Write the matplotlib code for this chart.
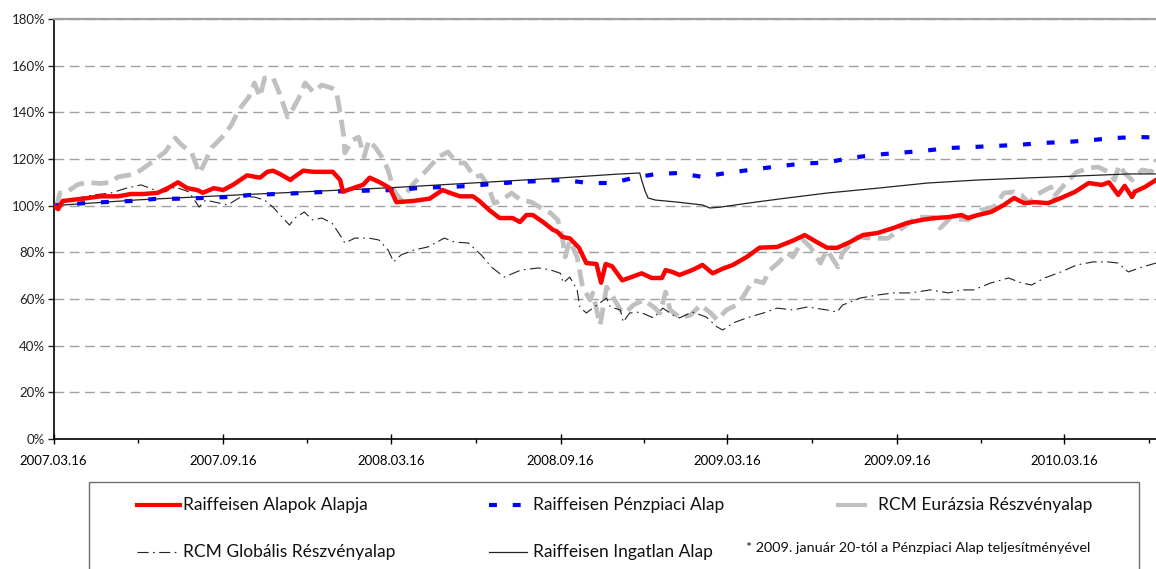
import matplotlib
matplotlib.use("Agg")
import matplotlib.pyplot as plt
import matplotlib.dates as mdates
import pandas as pd
from matplotlib.ticker import PercentFormatter, MultipleLocator
from matplotlib.patches import Rectangle
from matplotlib.lines import Line2D

plt.rcParams['font.family'] = ['Lato', 'DejaVu Sans']

# --- data (percent of starting value) ---
alapok_dates = ['2007-03-16', '2007-03-21', '2007-03-26', '2007-04-17', '2007-05-06', '2007-05-25',
                '2007-06-08', '2007-06-22', '2007-07-07', '2007-07-18', '2007-07-29', '2007-08-08',
                '2007-08-19', '2007-08-25', '2007-09-06', '2007-09-16', '2007-09-27', '2007-10-12',
                '2007-10-26', '2007-11-03', '2007-11-09', '2007-11-17', '2007-11-28', '2007-12-01',
                '2007-12-12', '2007-12-23', '2008-01-07', '2008-01-13', '2008-01-21', '2008-01-24',
                '2008-02-04', '2008-02-15', '2008-02-22', '2008-03-04', '2008-03-15', '2008-03-22',
                '2008-04-09', '2008-04-27', '2008-05-11', '2008-05-19', '2008-05-30', '2008-06-13',
                '2008-06-20', '2008-07-01', '2008-07-12', '2008-07-26', '2008-08-03', '2008-08-10',
                '2008-08-17', '2008-08-28', '2008-09-08', '2008-09-12', '2008-09-18', '2008-09-26',
                '2008-10-06', '2008-10-14', '2008-10-25', '2008-10-30', '2008-11-04', '2008-11-11',
                '2008-11-22', '2008-12-02', '2008-12-13', '2008-12-24', '2009-01-04', '2009-01-08',
                '2009-01-16', '2009-01-23', '2009-02-06', '2009-02-17', '2009-02-28', '2009-03-11',
                '2009-03-22', '2009-04-06', '2009-04-20', '2009-05-09', '2009-05-26', '2009-06-08',
                '2009-06-21', '2009-07-02', '2009-07-13', '2009-07-27', '2009-08-10', '2009-08-26',
                '2009-09-12', '2009-09-27', '2009-10-13', '2009-10-27', '2009-11-11', '2009-11-25',
                '2009-12-02', '2009-12-13', '2009-12-27', '2010-01-10', '2010-01-21', '2010-02-01',
                '2010-02-12', '2010-02-27', '2010-03-13', '2010-03-28', '2010-04-12', '2010-04-26',
                '2010-05-04', '2010-05-14', '2010-05-21', '2010-05-29', '2010-06-01', '2010-06-12',
                '2010-06-24']
alapok_vals = [100.0, 98.5, 102.0, 103.0, 104.0, 104.0, 105.0, 105.0, 105.5, 107.5, 110.0, 107.5,
               106.7, 105.5, 107.5, 106.7, 109.0, 113.0, 112.0, 114.5, 115.0, 113.5, 111.0, 112.0,
               115.0, 114.5, 114.5, 114.5, 111.0, 106.0, 107.5, 109.0, 112.0, 110.0, 107.5, 101.5,
               102.0, 103.0, 106.7, 105.5, 104.0, 104.0, 102.0, 98.0, 94.7, 94.7, 93.0, 96.0,
               96.0, 93.0, 89.6, 89.0, 86.6, 86.0, 82.0, 75.4, 75.0, 67.0, 75.0, 74.0,
               68.0, 69.4, 71.0, 69.0, 69.0, 72.4, 71.5, 70.3, 72.4, 74.6, 71.0, 73.0,
               74.6, 78.0, 82.0, 82.3, 85.0, 87.4, 84.4, 82.0, 81.9, 84.4, 87.4, 88.3,
               90.4, 92.6, 93.9, 94.7, 95.1, 96.0, 94.7, 96.0, 97.3, 100.3, 103.3, 101.1,
               101.5, 101.1, 103.3, 105.9, 109.7, 108.9, 110.0, 104.6, 108.5, 103.7, 106.0, 108.0,
               111.0]

penz_dates = ['2007-03-16', '2007-04-16', '2007-05-14', '2007-06-08', '2007-07-04', '2007-08-02',
              '2007-08-26', '2007-09-20', '2007-10-16', '2007-11-13', '2007-12-10', '2008-01-03',
              '2008-02-02', '2008-02-26', '2008-03-22', '2008-04-16', '2008-05-14', '2008-06-07',
              '2008-07-05', '2008-07-30', '2008-08-27', '2008-09-20', '2008-10-16', '2008-11-11',
              '2008-12-04', '2008-12-29', '2009-01-23', '2009-02-17', '2009-03-15', '2009-04-09',
              '2009-05-05', '2009-06-04', '2009-07-02', '2009-07-27', '2009-08-21', '2009-09-16',
              '2009-10-13', '2009-11-11', '2009-12-06', '2009-12-31', '2010-01-24', '2010-02-22',
              '2010-03-19', '2010-04-13', '2010-05-08', '2010-06-07', '2010-06-24']
penz_vals = [100.0, 101.0, 101.6, 102.0, 102.9, 103.0, 103.3, 103.7, 104.6, 105.0, 105.4, 105.9,
             106.3, 106.5, 106.7, 107.6, 108.0, 108.4, 109.3, 110.1, 110.6, 111.0, 109.7, 109.7,
             111.9, 113.6, 114.0, 112.3, 114.0, 115.3, 116.6, 118.0, 118.5, 120.4, 121.7, 122.6,
             123.4, 124.7, 125.1, 125.6, 126.0, 126.9, 127.3, 128.0, 129.0, 129.4, 129.2]

eurazsia_dates = ['2007-03-16', '2007-03-20', '2007-03-23', '2007-03-31', '2007-04-11', '2007-04-21',
                  '2007-05-06', '2007-05-17', '2007-05-25', '2007-06-04', '2007-06-11', '2007-06-19',
                  '2007-07-04', '2007-07-15', '2007-07-26', '2007-08-02', '2007-08-13', '2007-08-21',
                  '2007-08-24', '2007-09-04', '2007-09-15', '2007-09-25', '2007-10-03', '2007-10-14',
                  '2007-10-20', '2007-10-26', '2007-10-31', '2007-11-09', '2007-11-16', '2007-11-25',
                  '2007-11-30', '2007-12-07', '2007-12-14', '2007-12-23', '2008-01-01', '2008-01-12',
                  '2008-01-17', '2008-01-21', '2008-01-25', '2008-01-26', '2008-02-03', '2008-02-10',
                  '2008-02-16', '2008-02-21', '2008-02-28', '2008-03-06', '2008-03-13', '2008-03-19',
                  '2008-03-27', '2008-04-10', '2008-04-21', '2008-05-07', '2008-05-17', '2008-05-21',
                  '2008-05-28', '2008-06-04', '2008-06-15', '2008-06-22', '2008-06-30', '2008-07-06',
                  '2008-07-14', '2008-07-25', '2008-08-04', '2008-08-15', '2008-08-26', '2008-09-05',
                  '2008-09-13', '2008-09-18', '2008-09-21', '2008-09-26', '2008-10-04', '2008-10-10',
                  '2008-10-18', '2008-10-21', '2008-10-29', '2008-11-05', '2008-11-12', '2008-11-20',
                  '2008-11-25', '2008-12-04', '2008-12-15', '2008-12-26', '2009-01-02', '2009-01-08',
                  '2009-01-13', '2009-01-24', '2009-02-04', '2009-02-15', '2009-02-26', '2009-03-05',
                  '2009-03-15', '2009-03-26', '2009-04-02', '2009-04-13', '2009-04-24', '2009-05-01',
                  '2009-05-10', '2009-05-20', '2009-05-26', '2009-06-06', '2009-06-14', '2009-06-25',
                  '2009-07-02', '2009-07-14', '2009-07-19', '2009-08-04', '2009-08-21', '2009-09-06',
                  '2009-09-19', '2009-10-08', '2009-10-26', '2009-11-02', '2009-11-13', '2009-12-02',
                  '2009-12-16', '2009-12-30', '2010-01-10', '2010-01-21', '2010-01-29', '2010-02-06',
                  '2010-02-16', '2010-03-02', '2010-03-05', '2010-03-19', '2010-03-30', '2010-04-12',
                  '2010-04-22', '2010-05-04', '2010-05-10', '2010-05-15', '2010-05-21', '2010-05-29',
                  '2010-06-09', '2010-06-19', '2010-06-24']
eurazsia_vals = [100.0, 101.0, 105.4, 106.0, 109.0, 110.0, 109.5, 110.0, 112.3, 113.0, 113.5, 115.3,
                 119.6, 123.0, 129.0, 126.0, 122.6, 114.0, 116.0, 125.0, 129.4, 134.6, 141.0, 146.6,
                 152.6, 146.6, 154.7, 155.0, 148.3, 138.0, 141.0, 146.0, 152.6, 148.7, 151.7, 150.4,
                 148.7, 139.7, 129.4, 122.6, 128.0, 129.4, 120.9, 128.0, 125.0, 121.0, 115.3, 106.7,
                 102.4, 109.7, 114.0, 121.0, 123.0, 121.0, 118.3, 118.3, 112.3, 113.0, 108.0, 101.0,
                 102.4, 105.4, 102.4, 101.6, 99.0, 96.9, 93.9, 86.6, 78.0, 85.0, 78.0, 65.1,
                 59.6, 62.6, 48.9, 65.1, 60.9, 55.3, 54.0, 57.4, 59.6, 56.6, 54.0, 63.0,
                 55.3, 51.9, 53.1, 57.4, 54.0, 51.0, 55.3, 57.4, 60.9, 68.1, 66.9, 72.4,
                 75.4, 79.7, 78.0, 85.3, 82.3, 75.4, 81.0, 73.7, 79.7, 86.6, 86.0, 86.0,
                 89.6, 95.1, 95.0, 90.4, 94.7, 93.9, 98.1, 99.4, 105.4, 105.9, 104.6, 101.1,
                 105.0, 108.0, 103.7, 110.0, 114.4, 116.1, 116.6, 114.4, 111.0, 117.4, 114.0, 111.0,
                 115.3, 114.5, 119.6]

globalis_dates = ['2007-03-16', '2007-03-31', '2007-04-28', '2007-05-17', '2007-06-04', '2007-06-19',
                  '2007-07-04', '2007-07-15', '2007-07-26', '2007-08-10', '2007-08-21', '2007-08-28',
                  '2007-09-06', '2007-09-21', '2007-10-05', '2007-10-20', '2007-10-31', '2007-11-09',
                  '2007-11-19', '2007-11-27', '2007-12-03', '2007-12-13', '2007-12-22', '2008-01-01',
                  '2008-01-12', '2008-01-23', '2008-01-26', '2008-02-06', '2008-02-21', '2008-03-03',
                  '2008-03-13', '2008-03-19', '2008-03-27', '2008-04-10', '2008-04-25', '2008-05-13',
                  '2008-05-24', '2008-06-08', '2008-06-22', '2008-07-03', '2008-07-17', '2008-08-04',
                  '2008-08-23', '2008-09-05', '2008-09-16', '2008-09-19', '2008-09-26', '2008-10-04',
                  '2008-10-07', '2008-10-14', '2008-10-21', '2008-11-05', '2008-11-09', '2008-11-20',
                  '2008-11-23', '2008-11-30', '2008-12-11', '2008-12-26', '2009-01-05', '2009-01-16',
                  '2009-01-23', '2009-02-06', '2009-02-21', '2009-03-05', '2009-03-11', '2009-03-22',
                  '2009-04-06', '2009-04-24', '2009-05-09', '2009-05-26', '2009-06-11', '2009-07-02',
                  '2009-07-13', '2009-07-19', '2009-08-07', '2009-08-26', '2009-09-12', '2009-10-01',
                  '2009-10-22', '2009-11-11', '2009-11-25', '2009-12-08', '2009-12-27', '2010-01-15',
                  '2010-01-29', '2010-02-09', '2010-02-23', '2010-03-13', '2010-03-30', '2010-04-17',
                  '2010-05-03', '2010-05-14', '2010-05-25', '2010-06-09', '2010-06-24']
globalis_vals = [100.0, 102.4, 104.6, 105.4, 107.6, 108.9, 106.7, 105.9, 108.0, 105.9, 99.4, 102.4,
                 101.6, 100.3, 103.7, 103.7, 102.4, 99.4, 95.1, 91.7, 94.7, 97.3, 93.9, 94.7,
                 92.6, 86.1, 84.0, 86.1, 86.1, 85.3, 81.0, 75.9, 78.9, 81.0, 82.3, 86.1,
                 84.4, 84.0, 78.9, 73.7, 69.4, 72.4, 73.3, 72.5, 71.0, 66.9, 69.4, 63.9,
                 56.6, 54.0, 56.1, 60.4, 56.6, 55.3, 50.1, 54.0, 54.4, 51.9, 56.1, 53.1,
                 51.9, 54.4, 52.3, 48.0, 46.7, 49.7, 51.9, 54.0, 56.1, 55.3, 56.6, 55.3,
                 54.4, 57.4, 60.4, 61.7, 62.6, 62.6, 63.9, 62.6, 63.9, 63.9, 66.9, 69.0,
                 66.9, 66.0, 69.0, 71.6, 74.6, 75.9, 75.9, 75.4, 71.6, 73.7, 75.4]

ingatlan_dates = ['2007-03-16', '2007-06-16', '2007-09-16', '2007-12-16', '2008-03-16', '2008-06-16',
                  '2008-09-16', '2008-11-16', '2008-12-11', '2008-12-13', '2008-12-17', '2008-12-20',
                  '2008-12-28', '2009-01-19', '2009-02-17', '2009-02-25', '2009-03-07', '2009-04-06',
                  '2009-05-12', '2009-07-02', '2009-08-26', '2009-10-19', '2009-12-13', '2010-02-06',
                  '2010-03-30', '2010-05-25', '2010-06-24']
ingatlan_vals = [100.0, 102.5, 104.3, 106.0, 107.7, 109.8, 111.9, 113.5, 114.0, 111.0, 106.0, 103.3,
                 102.4, 101.6, 100.3, 99.0, 99.3, 101.0, 102.9, 105.4, 107.5, 109.7, 111.0, 111.9,
                 112.7, 113.6, 113.6]

legend_note = '* 2009. január 20-tól a Pénzpiaci Alap teljesítményével'

W, H = 1156, 569
fig = plt.figure(figsize=(W / 100, H / 100), dpi=100)
ax = fig.add_axes([53.5 / W, (H - 439) / H, (W - 53.5) / W, 420 / H])

to_dt = pd.to_datetime

ax.plot(to_dt(eurazsia_dates), eurazsia_vals, color='#C0C0C0', lw=3.4,
        dashes=(3.6, 1.6), dash_capstyle='butt', solid_joinstyle='round', zorder=2)
ax.plot(to_dt(globalis_dates), globalis_vals, color='#222222', lw=0.8,
        dashes=(10, 4, 1.5, 4), zorder=3)
ax.plot(to_dt(ingatlan_dates), ingatlan_vals, color='#222222', lw=0.9, zorder=3)
ax.plot(to_dt(penz_dates), penz_vals, color='#0000FF', lw=3,
        dashes=(1.9, 3.8), dash_capstyle='butt', zorder=4)
ax.plot(to_dt(alapok_dates), alapok_vals, color='#FF0000', lw=3.2,
        solid_joinstyle='round', zorder=5)

ax.set_xlim(pd.Timestamp('2007-03-16'), pd.Timestamp('2010-06-24'))
ax.set_ylim(0, 180)
ax.yaxis.set_major_locator(MultipleLocator(20))
ax.yaxis.set_major_formatter(PercentFormatter(xmax=100, decimals=0))
ax.xaxis.set_major_locator(mdates.MonthLocator(bymonth=[3, 9], bymonthday=16))
ax.xaxis.set_minor_locator(mdates.MonthLocator(bymonth=[6, 12], bymonthday=16))
ax.xaxis.set_major_formatter(mdates.DateFormatter('%Y.%m.%d'))

ax.grid(axis='y', color='#A0A0A0', lw=1, dashes=(7, 4))
ax.set_axisbelow(True)
ax.spines['right'].set_visible(False)
ax.spines['top'].set_color('#A0A0A0')
ax.spines['top'].set_linewidth(1.6)
ax.spines['left'].set_linewidth(1.2)
ax.spines['bottom'].set_linewidth(1.2)

ax.tick_params(axis='y', direction='out', length=4, width=1, labelsize=9.5, pad=2, colors='#222222')
ax.tick_params(axis='x', which='major', direction='inout', length=7, width=1, labelsize=9.5, pad=8)
ax.tick_params(axis='x', which='minor', direction='out', length=3, width=1)

# --- legend box drawn in pixel space below the plot ---
lax = fig.add_axes([0, 0, 1, 1], zorder=-1)
lax.set_xlim(0, W)
lax.set_ylim(H, 0)
lax.axis('off')
lax.add_patch(Rectangle((89, 482), 1050, 100, fill=False, edgecolor='#707070', lw=1))

row1, row2 = 505, 552
lax.add_line(Line2D([137, 180], [row1, row1], color='#FF0000', lw=3))
lax.add_line(Line2D([489, 523], [row1, row1], color='#0000FF', lw=3, dashes=(1.9, 3.8), dash_capstyle='butt'))
lax.add_line(Line2D([838, 865], [row1, row1], color='#C0C0C0', lw=3))
lax.add_line(Line2D([137, 180], [row2, row2], color='#222222', lw=0.8, dashes=(10, 4, 1.5, 4)))
lax.add_line(Line2D([489, 527], [row2, row2], color='#222222', lw=0.9))

txt = dict(fontsize=12.5, va='center', ha='left', color='#111111')
lax.text(183, row1, 'Raiffeisen Alapok Alapja', **txt)
lax.text(533, row1, 'Raiffeisen Pénzpiaci Alap', **txt)
lax.text(878, row1, 'RCM Eurázsia Részvényalap', **txt)
lax.text(183, row2, 'RCM Globális Részvényalap', **txt)
lax.text(533, row2, 'Raiffeisen Ingatlan Alap', **txt)
lax.text(746, row2 - 4, legend_note, fontsize=10.4, va='center', ha='left', color='#111111')

fig.savefig('out.png', dpi=100, facecolor='white')
